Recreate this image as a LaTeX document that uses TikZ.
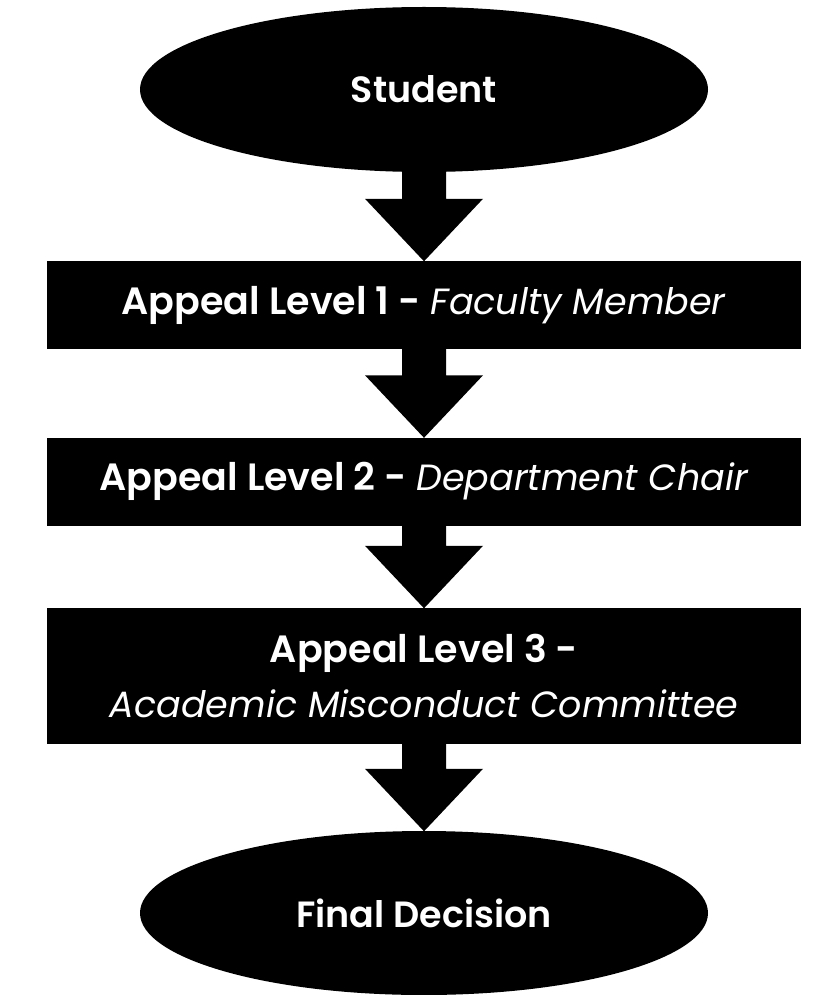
\documentclass[tikz,border=0pt]{standalone}
\usepackage{fontspec}
\setmainfont{Poppins}[BoldFont={Poppins SemiBold}]
\usetikzlibrary{shapes.geometric,calc}
\newcommand\blockarr[2]{%
  \fill let \p1=(#1.south), \p2=(#2.north) in
    (\x1-22pt,\y1+1pt) -- (\x1+22pt,\y1+1pt) -- (\x1+22pt,\y2+62pt) --
    (\x1+59pt,\y2+62pt) -- (\x2,\y2-0.5pt) -- (\x1-59pt,\y2+62pt) --
    (\x1-22pt,\y2+62pt) -- cycle;}
\newcommand\lvl[1]{{\fontsize{38}{55}\selectfont\bfseries #1}}
\begin{document}
\begin{tikzpicture}[x=1pt,y=-1pt,
  term/.style={ellipse,fill=black,text=white,inner sep=0pt,
    minimum width=568pt,minimum height=165pt,
    font=\fontsize{36.5}{42}\selectfont\bfseries},
  levelbox/.style={rectangle,fill=black,text=white,inner sep=0pt,
    minimum width=754pt,align=center,
    font=\fontsize{36.5}{55}\selectfont}]
\useasboundingbox (0,0) rectangle (822,995);
\node[term] (s) at (424,89.5) {Student};
\node[levelbox,minimum height=88pt] (l1) at (424,305)
  {\lvl{Appeal Level 1 -} \textit{Faculty Member}};
\node[levelbox,minimum height=88.5pt] (l2) at (424,481.75)
  {\lvl{Appeal Level 2 -} \textit{Department Chair}};
\node[levelbox,minimum height=136pt] (l3) at (424,676)
  {\lvl{Appeal Level 3 -}\\\textit{Academic Misconduct Committee}};
\node[term,minimum height=164pt] (f) at (424,913) {Final Decision};
\blockarr{s}{l1}
\blockarr{l1}{l2}
\blockarr{l2}{l3}
\blockarr{l3}{f}
\end{tikzpicture}
\end{document}
